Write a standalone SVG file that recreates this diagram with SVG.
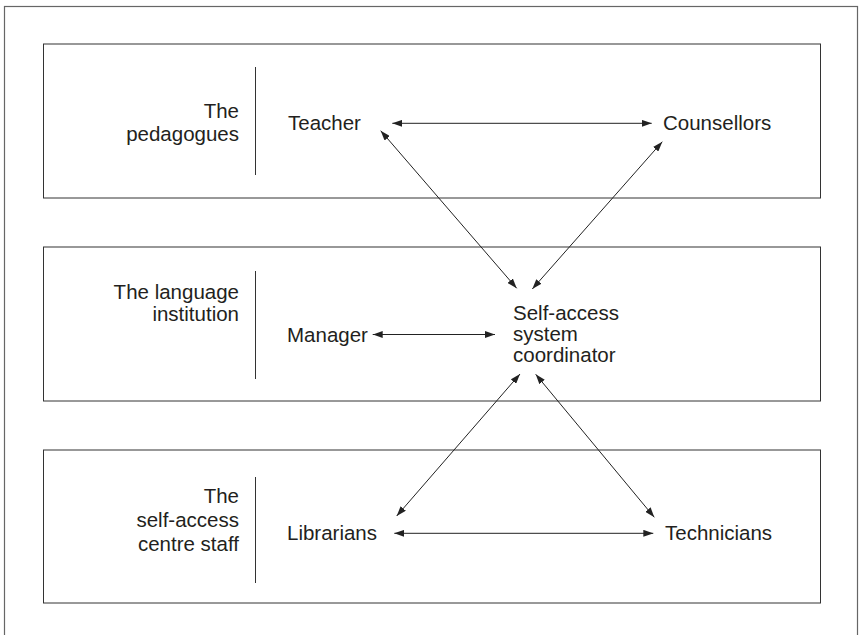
<svg xmlns="http://www.w3.org/2000/svg" width="860" height="635" viewBox="0 0 860 635">
  <style>
    .frame { fill: none; stroke: #666; stroke-width: 1.2; }
    .band { fill: none; stroke: #333; stroke-width: 1; }
    .divider { stroke: #333; stroke-width: 1; }
    .label { font-family: "Liberation Sans", Arial, Helvetica, sans-serif; font-size: 20.5px; fill: #231f20; }
    .group-title { text-anchor: end; }
    .link { stroke: #222; stroke-width: 1; fill: none; marker-start: url(#head); marker-end: url(#head); }
  </style>
  <defs>
    <marker id="head" viewBox="0 0 10 7" markerWidth="10" markerHeight="7" refX="10" refY="3.5" orient="auto-start-reverse" markerUnits="userSpaceOnUse">
      <path d="M0,0 L10,3.5 L0,7 z" fill="#222"/>
    </marker>
  </defs>

  <rect width="860" height="635" fill="#fff"/>
  <!-- outer frame (runs off the right/bottom of the page) -->
  <rect class="frame" x="4.5" y="6.5" width="853" height="640"/>

  <!-- band 1: the pedagogues -->
  <g id="band-pedagogues">
    <rect class="band" x="43.5" y="44" width="777" height="154"/>
    <line class="divider" x1="255.5" y1="67" x2="255.5" y2="175"/>
    <text class="label group-title" x="239" y="118">The</text>
    <text class="label group-title" x="239" y="141">pedagogues</text>
  </g>

  <!-- band 2: the language institution -->
  <g id="band-institution">
    <rect class="band" x="43.5" y="247" width="777" height="154"/>
    <line class="divider" x1="255.5" y1="271" x2="255.5" y2="379"/>
    <text class="label group-title" x="239" y="299">The language</text>
    <text class="label group-title" x="239" y="321">institution</text>
  </g>

  <!-- band 3: the self-access centre staff -->
  <g id="band-staff">
    <rect class="band" x="43.5" y="450" width="777" height="153"/>
    <line class="divider" x1="255.5" y1="477" x2="255.5" y2="583"/>
    <text class="label group-title" x="239" y="503">The</text>
    <text class="label group-title" x="239" y="527">self-access</text>
    <text class="label group-title" x="239" y="551">centre staff</text>
  </g>

  <!-- role nodes -->
  <g id="node-teacher">
    <text class="label" x="288" y="130">Teacher</text>
  </g>
  <g id="node-counsellors">
    <text class="label" x="663" y="130">Counsellors</text>
  </g>
  <g id="node-manager">
    <text class="label" x="287" y="342">Manager</text>
  </g>
  <g id="node-coordinator">
    <text class="label" x="513" y="320">Self-access</text>
    <text class="label" x="513" y="341">system</text>
    <text class="label" x="513" y="362">coordinator</text>
  </g>
  <g id="node-librarians">
    <text class="label" x="287" y="540">Librarians</text>
  </g>
  <g id="node-technicians">
    <text class="label" x="665" y="540">Technicians</text>
  </g>

  <!-- two-way links -->
  <g id="connectors">
    <line class="link" x1="392.3" y1="123.3" x2="651.7" y2="123.3"/>
    <line class="link" x1="380.7" y1="130.7" x2="516.7" y2="288.3"/>
    <line class="link" x1="662.3" y1="141.7" x2="532.3" y2="289"/>
    <line class="link" x1="372.7" y1="334.5" x2="495" y2="334.5"/>
    <line class="link" x1="520" y1="374" x2="396.7" y2="516"/>
    <line class="link" x1="535.7" y1="374.3" x2="654.3" y2="517.3"/>
    <line class="link" x1="394.3" y1="533.3" x2="653.3" y2="533.3"/>
  </g>
</svg>
